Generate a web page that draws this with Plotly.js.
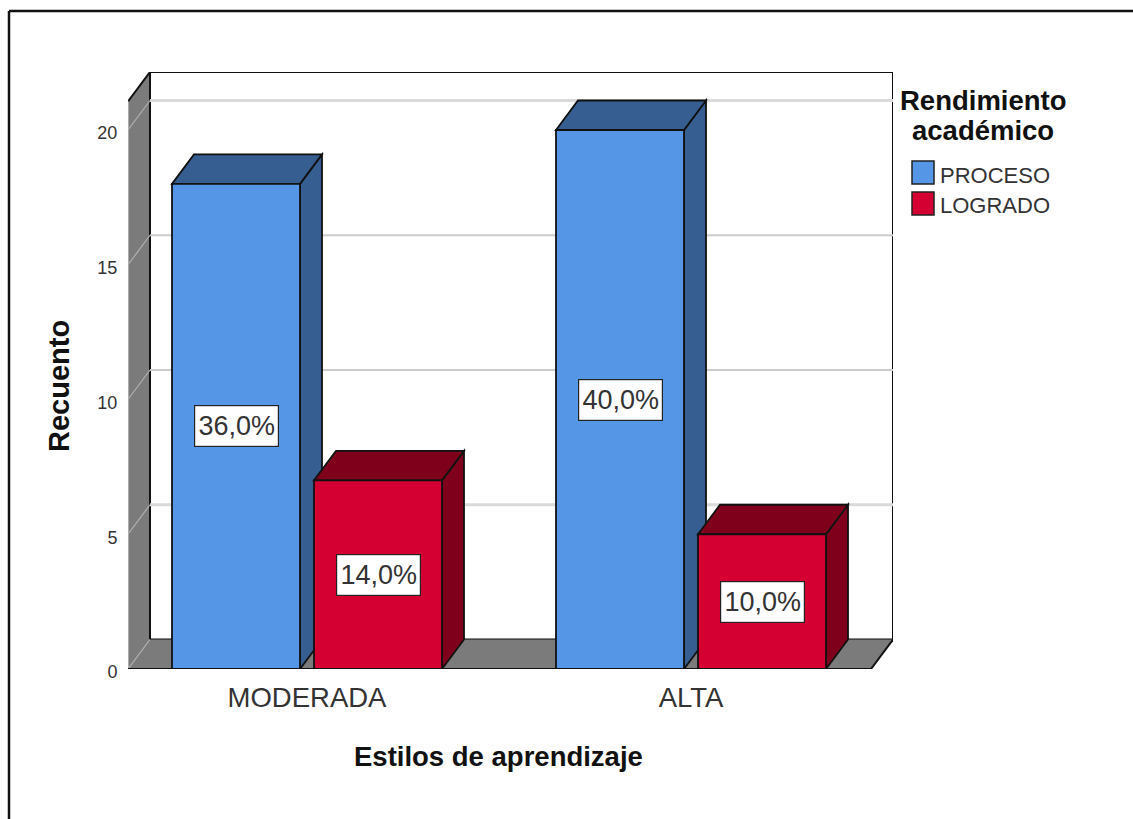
<!DOCTYPE html>
<html>
<head>
<meta charset="utf-8">
<script src="https://cdn.plot.ly/plotly-3.0.1.min.js"></script>
<style>html,body{margin:0;padding:0;background:#fff;overflow:hidden}#chart{width:1133px;height:819px}</style>
</head>
<body>
<div id="chart"></div>
<script>
const categories = ['MODERADA', 'ALTA'];
const seriesNames = ['PROCESO', 'LOGRADO'];
const proceso = [18, 20];
const logrado = [7, 5];
const procesoLabels = ['36,0%', '40,0%'];
const logradoLabels = ['14,0%', '10,0%'];
const yTicks = [0, 5, 10, 15, 20];

const W = 1133, H = 819;
const L = 128, T = 72, PW = 765, PH = 597;
const pxPerX = 384, pxPerY = 26.95;
const xr = [(L - 307) / pxPerX, (L + PW - 307) / pxPerX];
const yr = [0, PH / pxPerY];
const dx = 22 / pxPerX, dy = 29.5 / pxPerY;
const barW = 128 / pxPerX, off = 71 / pxPerX;
const idx = categories.map((_, i) => i);
const px = v => (v - L) / PW, py = v => 1 - (v - T) / PH;

const edge = '#111111', fontFam = '"Liberation Sans", Arial, sans-serif';
const c = {blue:'#5596E6', blueD:'#365E91', red:'#D50032', redD:'#7F001B', wall:'#7B7B7B'};

const poly = pts => 'M' + pts.map(p => p[0] + ',' + p[1]).join('L') + 'Z';
const shape = (pts, fill, w) => ({type:'path', layer:'below', xref:'x', yref:'y', path:poly(pts),
  fillcolor:fill, line:{color:edge, width:w === undefined ? 1.8 : w}});
const seg = (x0,y0,x1,y1,col,w) => ({type:'line', layer:'below', xref:'x', yref:'y', x0,y0,x1,y1, line:{color:col,width:w}});

const shapes = [];
// back wall, left wall, floor
shapes.push(shape([[xr[0]+dx,dy],[xr[1],dy],[xr[1],yr[1]],[xr[0]+dx,yr[1]]], '#FFFFFF', 2));
shapes.push(shape([[xr[0],0],[xr[0]+dx,dy],[xr[1],dy],[xr[1]-dx,0]], c.wall, 0));
shapes.push(shape([[xr[0],0],[xr[0]+dx,dy],[xr[0]+dx,yr[1]],[xr[0],yr[1]-dy]], c.wall, 0));
shapes.push(seg(xr[0],yr[1]-dy,xr[0]+dx,yr[1],edge,2));
shapes.push(seg(xr[0]+dx,dy,xr[0]+dx,yr[1],edge,2));
shapes.push(seg(xr[0],0,xr[0],yr[1]-dy,'#BDBDBD',1.5));
shapes.push(seg(xr[1],dy,xr[1]-dx,0,edge,2));
shapes.push(seg(xr[1],dy,xr[1],yr[1],edge,2));
// gridlines on the walls
yTicks.forEach(v => {
  if (v > 0) {
    const thick = (v === 5 || v === 20);
    shapes.push(seg(xr[0]+dx, v+dy, xr[1], v+dy, thick ? '#DADADA' : '#CCCCCC', thick ? 3 : 1.8));
  }
  shapes.push(seg(xr[0], v, xr[0]+dx, v+dy, '#B0B0B0', 1.2));
});
shapes.push(seg(xr[0],0,xr[1]-dx,0,edge,2.2));
// depth faces of the bars
function depth(vals, sign, dark) {
  vals.forEach((v, i) => {
    const a = i + sign*off - barW/2, b = i + sign*off + barW/2;
    shapes.push(shape([[b,0],[b+dx,dy],[b+dx,v+dy],[b,v]], dark));
    shapes.push(shape([[a,v],[a+dx,v+dy],[b+dx,v+dy],[b,v]], dark));
  });
}
depth(proceso, -1, c.blueD);
depth(logrado, 1, c.redD);
// frame and legend swatches (page coordinates)
const pg = (x0,y0,x1,y1,extra) => Object.assign({xref:'paper', yref:'paper', x0:px(x0), x1:px(x1), y0:py(y0), y1:py(y1)}, extra);
shapes.push(pg(9,11,W,11,{type:'line', line:{color:'#111',width:2.5}}));
shapes.push(pg(9,11,9,H,{type:'line', line:{color:'#111',width:2.5}}));
shapes.push(pg(912,161,934,184,{type:'rect', fillcolor:c.blue, line:{color:'#222',width:1.5}}));
shapes.push(pg(912,192,934,215,{type:'rect', fillcolor:c.red, line:{color:'#222',width:1.5}}));

const labelAnn = (vals, labels, sign) => vals.map((v, i) => ({
  x: i + sign*off, y: v/2, xref:'x', yref:'y', text: labels[i], showarrow:false,
  bgcolor:'#FFFFFF', bordercolor:'#222', borderwidth:1.2, borderpad:0, width:83, height:40,
  font:{family:fontFam, size:27, color:'#333'}
}));
const textAnn = (x, y, text, size, extra) => Object.assign({xref:'paper', yref:'paper', x:px(x), y:py(y), text, showarrow:false,
  font:{family:fontFam, size, color:'#333'}, xanchor:'left', yanchor:'middle'}, extra || {});
const boldFont = size => ({family:fontFam, size, color:'#111', weight:700});

const annotations = [
  ...labelAnn(proceso, procesoLabels, -1),
  ...labelAnn(logrado, logradoLabels, 1),
  textAnn(983, 101, 'Rendimiento', 27.5, {xanchor:'center', font:boldFont(27.5)}),
  textAnn(983, 131, 'académico', 27.5, {xanchor:'center', font:boldFont(27.5)}),
  textAnn(938, 175, seriesNames[0], 22),
  textAnn(938, 205, seriesNames[1], 22),
  textAnn(498, 756, 'Estilos de aprendizaje', 27.5, {xanchor:'center', font:boldFont(27.5)}),
  textAnn(59, 386, 'Recuento', 29, {xanchor:'center', textangle:-90, font:boldFont(29)})
];

const bar = (name, y, color) => ({type:'bar', name, x:idx, y, width:barW,
  marker:{color, line:{color:edge, width:1.8}}, hoverinfo:'x+y'});

const traces = [bar(seriesNames[0], proceso, c.blue), bar(seriesNames[1], logrado, c.red)];
traces[0].offset = -off - barW/2;
traces[1].offset = off - barW/2;

Plotly.newPlot('chart', traces, {
  width:W, height:H, autosize:false,
  margin:{l:L, t:T, r:W-L-PW, b:H-T-PH, pad:0},
  paper_bgcolor:'#FFFFFF', plot_bgcolor:'rgba(0,0,0,0)',
  showlegend:false, barmode:'overlay',
  font:{family:fontFam, color:'#333'},
  shapes, annotations,
  xaxis:{range:xr, tickvals:idx, ticktext:categories, showgrid:false, zeroline:false, showline:false,
    ticks:'outside', ticklen:4, tickcolor:'rgba(0,0,0,0)', tickfont:{family:fontFam, size:27.5, color:'#333'}},
  yaxis:{range:yr, tickvals:yTicks, showgrid:false, zeroline:false, showline:false, ticklabelshift:3,
    ticks:'outside', ticklen:6, tickcolor:'rgba(0,0,0,0)', tickfont:{family:fontFam, size:18, color:'#333'}}
}, {displayModeBar:false, staticPlot:true});
</script>
</body>
</html>
